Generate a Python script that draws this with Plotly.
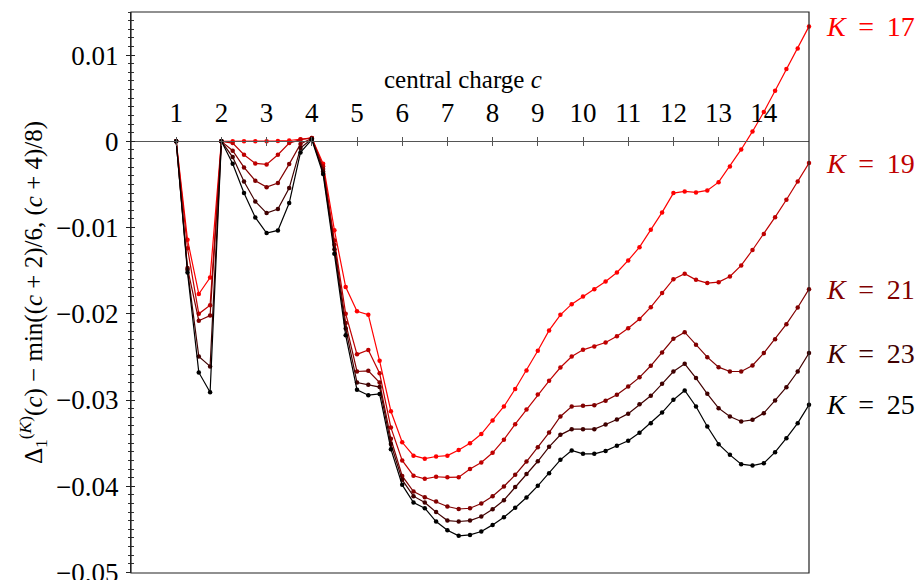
import plotly.graph_objects as go

# central charge grid (points every 0.25 from 1 to 15)
c_vals = [1.0, 1.25, 1.5, 1.75, 2.0, 2.25, 2.5, 2.75, 3.0, 3.25, 3.5, 3.75,
          4.0, 4.25, 4.5, 4.75, 5.0, 5.25, 5.5, 5.75, 6.0, 6.25, 6.5, 6.75,
          7.0, 7.25, 7.5, 7.75, 8.0, 8.25, 8.5, 8.75, 9.0, 9.25, 9.5, 9.75,
          10.0, 10.25, 10.5, 10.75, 11.0, 11.25, 11.5, 11.75, 12.0, 12.25,
          12.5, 12.75, 13.0, 13.25, 13.5, 13.75, 14.0, 14.25, 14.5, 14.75, 15.0]

# values in units of 1e-3
k17 = [0, -11.4, -17.7, -15.8, 0, 0, 0, 0, 0, 0.05, 0.1, 0.25,
       0.4, -2.6, -10.3, -16.9, -19.7, -20.1, -25.45, -31.3, -34.9, -36.45, -36.8, -36.55,
       -36.45, -35.8, -35.0, -33.95, -32.37, -30.75, -28.72, -26.57, -24.29, -21.93, -20.12, -18.88,
       -17.99, -17.14, -16.25, -15.21, -13.81, -12.27, -10.26, -8.24, -6.0, -5.81,
       -5.92, -5.69, -4.73, -2.91, -0.94, 1.15, 3.40, 5.87, 8.38, 10.78, 13.33]
k19 = [0, -12.4, -20.0, -19.0, 0, -0.2, -1.55, -2.56, -2.68, -1.55, -0.2, 0.2,
       0.4, -2.9, -11.5, -20.0, -24.7, -24.2, -26.9, -33.2, -37.0, -38.78, -39.14, -38.9,
       -38.97, -38.95, -38.0, -37.25, -36.12, -34.6, -32.8, -31.1, -29.35, -27.77, -26.23, -24.95,
       -24.18, -23.79, -23.33, -22.6, -21.68, -20.6, -19.23, -17.6, -15.98, -15.36,
       -16.06, -16.44, -16.33, -15.67, -14.39, -12.6, -10.74, -8.79, -6.77, -4.65, -2.52]
k21 = [0, -14.7, -20.8, -20.2, 0, -1.09, -3.02, -4.57, -5.31, -4.84, -2.64, -0.3,
       0.35, -3.2, -12.0, -21.08, -26.69, -26.61, -27.97, -34.5, -38.8, -40.61, -41.27, -41.77,
       -42.35, -42.64, -42.55, -42.0, -41.15, -40.03, -38.68, -37.13, -35.48, -33.77, -31.91, -30.75,
       -30.67, -30.6, -30.07, -29.4, -28.43, -27.37, -26.03, -24.49, -22.90, -22.13,
       -23.60, -25.03, -26.19, -26.69, -26.69, -25.99, -24.56, -22.94, -21.20, -19.27, -17.14]
k23 = [0, -14.9, -24.95, -26.1, 0, -1.83, -4.65, -6.97, -8.32, -7.86, -5.42, -0.78,
       0.3, -3.5, -12.5, -21.7, -27.97, -28.24, -28.5, -35.1, -39.26, -41.15, -41.89, -43.0,
       -43.98, -44.09, -43.98, -43.51, -42.66, -41.62, -40.1, -38.58, -37.1, -35.43, -34.04, -33.38,
       -33.38, -33.38, -32.84, -32.26, -31.58, -30.5, -29.51, -28.12, -26.69, -25.80,
       -27.46, -29.28, -30.94, -31.91, -32.49, -32.30, -31.52, -30.05, -28.51, -26.69, -24.56]
k25 = [0, -15.2, -26.8, -29.1, 0, -2.6, -6.0, -8.82, -10.64, -10.33, -7.16, -1.28,
       0.2, -3.8, -13.05, -22.5, -28.82, -29.44, -29.3, -35.7, -39.84, -41.89, -42.54, -44.09,
       -45.1, -45.75, -45.64, -45.25, -44.48, -43.6, -42.5, -41.3, -39.95, -38.5, -36.94, -35.85,
       -36.24, -36.24, -35.9, -35.31, -34.72, -33.8, -32.68, -31.45, -29.98, -28.89,
       -30.75, -33.07, -35.12, -36.36, -37.44, -37.60, -37.32, -36.05, -34.42, -32.68, -30.56]

series_K = [17, 19, 21, 23, 25]
series_vals = [k17, k19, k21, k23, k25]
series_colors = ["rgb(255,0,0)", "rgb(191,0,0)", "rgb(128,0,0)", "rgb(64,0,0)", "rgb(0,0,0)"]

x_ticks = list(range(1, 15))
y_ticks = [-0.05, -0.04, -0.03, -0.02, -0.01, 0, 0.01]
y_ticktext = ["\u22120.05", "\u22120.04", "\u22120.03", "\u22120.02", "\u22120.01", "0", "0.01"]

FONT = "Liberation Serif"
Y_MIN, Y_MAX = -0.05006, 0.015
zero_pos = (0 - Y_MIN) / (Y_MAX - Y_MIN)

fig = go.Figure()
for K, vals, col in zip(series_K, series_vals, series_colors):
    fig.add_trace(go.Scatter(
        x=c_vals, y=[v * 1e-3 for v in vals], mode="lines+markers",
        line=dict(color=col, width=1.2), marker=dict(color=col, size=4.5),
        name=f"K = {K}", showlegend=False, cliponaxis=False))
    fig.add_annotation(x=1, xref="paper", xshift=15, xanchor="left",
                       y=vals[-1] * 1e-3, yref="y", yanchor="middle",
                       text="<i>K</i>\u2009 = \u2009" + str(K), showarrow=False,
                       font=dict(family=FONT, size=28, color=col))

# helper subplot for ticks on the other side of the axes
fig.add_trace(go.Scatter(x=[], y=[], xaxis="x2", yaxis="y2", showlegend=False))

axis_line = "#555"
fig.update_layout(
    width=916, height=580,
    margin=dict(l=131, r=107, t=12, b=7),
    paper_bgcolor="white", plot_bgcolor="white",
    font=dict(family=FONT, size=27, color="black"),
    xaxis=dict(range=[0, 15], tickvals=x_ticks, side="top", anchor="free",
               position=zero_pos, showline=True, linecolor=axis_line, linewidth=1.2,
               ticks="outside", ticklen=4, tickcolor=axis_line, tickwidth=1,
               ticklabelstandoff=4, automargin=False,
               showgrid=False, zeroline=False, tickfont=dict(size=27)),
    xaxis2=dict(range=[0, 15], tickvals=x_ticks, side="bottom", anchor="free",
                overlaying="x", position=zero_pos, showline=False, automargin=False,
                ticks="outside", ticklen=4, tickcolor=axis_line, tickwidth=1,
                showticklabels=False, showgrid=False, zeroline=False),
    yaxis=dict(range=[Y_MIN, Y_MAX], tickvals=y_ticks, ticktext=y_ticktext,
               showline=True, linecolor="#222", linewidth=1.2, automargin=False,
               ticks="outside", ticklen=4, tickcolor="#222", ticklabelstandoff=2,
               ticklabeloverflow="allow",
               minor=dict(dtick=0.001, tick0=0, ticks="outside", ticklen=2, tickcolor="#333"),
               showgrid=False, zeroline=False, tickfont=dict(size=27),
               title=dict(text="\u0394<sub>1</sub><sup>(<i>K</i>)</sup>(<i>c</i>) \u2212 min((<i>c</i> + 2)/6, (<i>c</i> + 4)/8)",
                          font=dict(size=25), standoff=6)),
    yaxis2=dict(range=[Y_MIN, Y_MAX], tickvals=y_ticks, overlaying="y", side="left",
                anchor="x2", showline=False, ticks="inside", ticklen=4, tickcolor="#222",
                automargin=False,
                minor=dict(dtick=0.001, tick0=0, ticks="inside", ticklen=3, tickcolor="#333"),
                showticklabels=False, showgrid=False, zeroline=False),
    shapes=[dict(type="rect", xref="paper", yref="paper", x0=0, x1=1, y0=0, y1=1,
                 line=dict(color="#222", width=1.2), layer="above")],
)

fig.add_annotation(x=0.3696, xref="paper", xanchor="left", y=0.00715, yref="y",
                   yanchor="middle", text="central charge <i>c</i>", showarrow=False,
                   font=dict(family=FONT, size=25, color="black"))

fig.write_html("out.html", config={"displayModeBar": False},
               post_script="document.body.style.margin='0px';")
